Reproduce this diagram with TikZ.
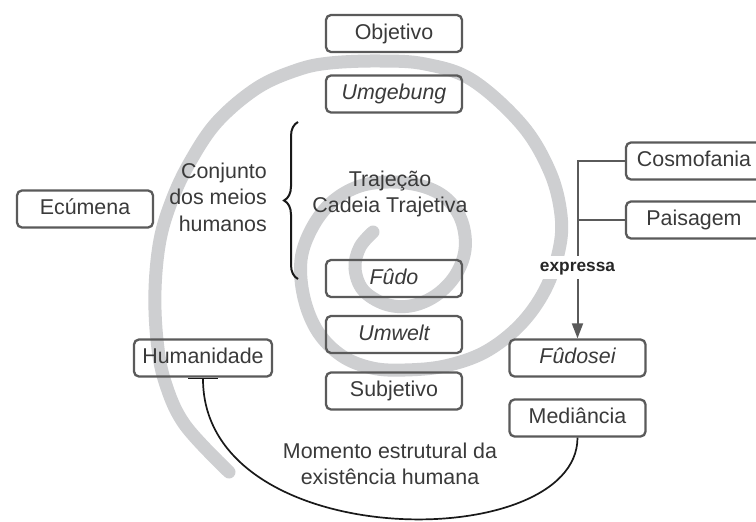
\documentclass[tikz,border=0pt]{standalone}
\usepackage{fontspec}
\setmainfont{Liberation Sans}
\usetikzlibrary{arrows.meta,decorations.pathreplacing}
\definecolor{txt}{HTML}{3A3A3A}
\definecolor{bord}{HTML}{5A5A5A}
\definecolor{spir}{HTML}{CECFD1}
\begin{document}
\begin{tikzpicture}[x=1pt,y=-1pt,
  box/.style={draw=bord, line width=2.3pt, rounded corners=5pt,
    minimum width=136pt, minimum height=37pt, inner sep=0pt,
    text height=15.3pt, text depth=4.3pt, text=txt,
    font=\fontsize{21.4}{26.5}\selectfont},
  lbl/.style={text=txt, inner sep=0pt, font=\fontsize{21.4}{26.5}\selectfont},
  spiralband/.style={draw=spir, line width=13pt, line cap=round},
  conn/.style={draw=bord, line width=2pt},
  curvelink/.style={draw=black!90, line width=1.7pt},
  bracestyle/.style={draw=black!90, line width=2pt, decorate,
    decoration={brace, amplitude=14pt}}]
\useasboundingbox (0,0) rectangle (756,522);
\fill[white] (0,0) rectangle (756,522);
\clip (0,0) rectangle (756,522);

% spiral
\draw[spiralband] plot[smooth, tension=0.6] coordinates {
 (373,232) (360,247) (355,268) (363,290) (385,304) (410,306) (435,296)
 (455,276) (465,250) (462,222) (448,200) (425,187) (393,182) (360,186)
 (332,202) (312,228) (301,260) (304,298) (318,332) (342,356) (372,368)
 (405,370) (445,366) (485,352) (520,325) (545,290) (559,250) (561,215)
 (550,172) (522,125) (472,80) (425,64) (380,61) (330,63) (297,70)
 (257,88) (217,122) (190,162) (172,200) (160,240) (155,290) (157,340)
 (165,382) (185,425) (229,472)};

% boxes
\node[box] (obj)   at (394,33.5)  {Objetivo};
\node[box] (umg)   at (394,94)    {\itshape Umgebung};
\node[box] (fudo)  at (394,278.5) {\itshape Fûdo};
\node[box] (umw)   at (394,334.5) {\itshape Umwelt};
\node[box] (subj)  at (394,391)   {Subjetivo};
\node[box] (ecu)   at (85,209)    {Ecúmena};
\node[box, minimum width=138pt] (hum) at (203,358) {Humanidade};
\node[box] (fds)   at (577.5,358) {\itshape Fûdosei};
\node[box] (med)   at (577.5,418) {Mediância};
\node[box] (cosmo) at (694,161)   {Cosmofania};
\node[box] (pais)  at (694,220)   {Paisagem};

% free labels
\node[lbl, align=right, anchor=east] (conj) at (267,197) {Conjunto\\dos meios\\humanos};
\node[lbl, align=center] (traj) at (390,194) {Trajeção\\Cadeia Trajetiva};
\node[lbl, align=center] (mom) at (390,464) {Momento estrutural da\\existência humana};

% brace
\coordinate (brb) at (298,279);
\coordinate (brt) at (298,122);
\draw[bracestyle] (brb) -- (brt);

% connectors on the right
\draw[conn, -{Triangle[length=15pt, width=11pt]}] (cosmo.west) -| (fds.north);
\draw[conn] (pais.west) -- (pais.west -| fds.north);
\node[fill=white, text=black!85, inner xsep=2pt, inner ysep=4pt,
  text height=12pt, text depth=3.6pt, anchor=base,
  font=\bfseries\fontsize{17.3}{20}\selectfont] (expr) at (577.5,271.5) {expressa};

% curve Mediância -> Humanidade
\draw[curvelink, -{Bar[width=30pt, line width=1.6pt]}] (med.south)
  .. controls (577.5,555) and (203,555) .. (hum.south);
\end{tikzpicture}
\end{document}
